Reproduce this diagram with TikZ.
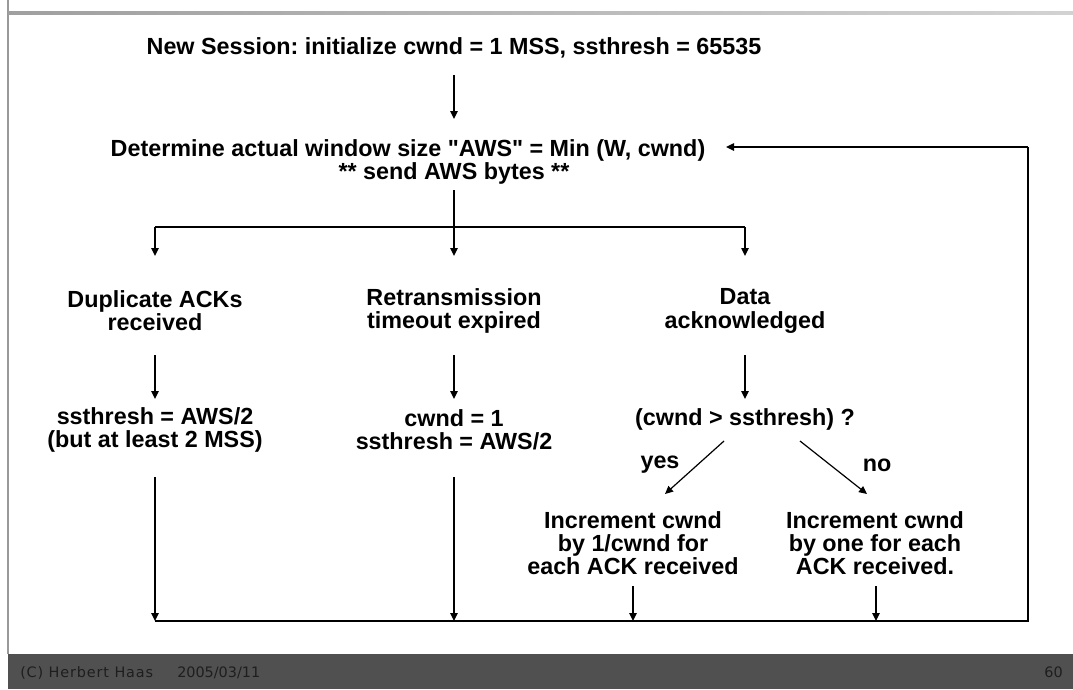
\documentclass[tikz,border=0pt]{standalone}
\usepackage{fontspec}
\setmainfont{Liberation Sans}[Ligatures=TeXOff]
\newfontfamily\footfont{DejaVu Sans}
\usetikzlibrary{arrows.meta}
\definecolor{footbg}{HTML}{505050}
\definecolor{foottx}{HTML}{1E1E1E}
\frenchspacing
\begin{document}
\begin{tikzpicture}[x=0.75pt,y=-0.75pt,
  lbl/.style={font=\bfseries\fontsize{17.5}{17.4}\selectfont,align=center,inner sep=0pt},
  foot/.style={text=foottx,font=\footfont\fontsize{10.8}{12}\selectfont,inner sep=0pt},
  arr/.style={line width=1.1pt,-{Triangle[width=5.5pt,length=6pt]}},
  ln/.style={line width=1.1pt}]
\useasboundingbox (0,0) rectangle (1073,689);
% slide frame
\fill[footbg] (8,654) rectangle (1073,689);
\draw[gray!80,line width=0.8pt] (8,0) -- (8,654);
\shade[left color=gray!75,right color=gray!35] (8,11.5) rectangle (1073,14);
\node[foot,anchor=base west] (footer) at (20,677)
  {\makebox[117.75pt][l]{\addfontfeature{LetterSpace=6}(C) Herbert Haas}2005/03/11};
\node[foot,anchor=base east] (page) at (1063,677) {60};

% text blocks
\node[lbl] (new) at (454,48) {New Session: initialize cwnd = 1 MSS, ssthresh = 65535};
\node[lbl] (det1) at (408,150) {Determine actual window size "AWS" = Min (W, cwnd)};
\node[lbl] (det2) at (454,173) {** send AWS bytes **};
\node[lbl] (dup) at (155,311) {Duplicate ACKs\\received};
\node[lbl] (ret) at (454,311) {Retransmission\\timeout expired};
\node[lbl] (dat) at (745,311) {Data\\acknowledged};
\node[lbl] (ss1) at (155,430) {ssthresh = AWS/2\\(but at least 2 MSS)};
\node[lbl] (cw1) at (454,430) {cwnd = 1\\ssthresh = AWS/2};
\node[lbl] (cmp) at (745,419) {(cwnd > ssthresh) ?};
\node[lbl] (yes) at (660,465) {yes};
\node[lbl] (no) at (877,465) {no};
\node[lbl] (inc1) at (633,543) {Increment cwnd\\by 1/cwnd for\\each ACK received};
\node[lbl] (inc2) at (875,543) {Increment cwnd\\by one for each\\ACK received.};

% junction points
\coordinate (a0) at (454,75);
\coordinate (a1) at (454,119);
\coordinate (s0) at (454,190);
\coordinate (split) at (454,227);
\coordinate (sl) at (155,227);
\coordinate (sr) at (745,227);
\coordinate (dupT) at (155,256);
\coordinate (retT) at (454,256);
\coordinate (datT) at (745,256);
\coordinate (dupB) at (155,355);
\coordinate (retB) at (454,355);
\coordinate (datB) at (745,355);
\coordinate (ss1T) at (155,399);
\coordinate (cw1T) at (454,399);
\coordinate (cmpT) at (745,399);
\coordinate (yA) at (724,441);
\coordinate (yB) at (665,494);
\coordinate (nA) at (800,441);
\coordinate (nB) at (867,494);
\coordinate (ss1B) at (155,477);
\coordinate (cw1B) at (454,477);
\coordinate (inc1B) at (633,586);
\coordinate (inc2B) at (876,586);
\coordinate (bl) at (155,621);
\coordinate (b2) at (454,621);
\coordinate (b3) at (633,621);
\coordinate (b4) at (876,621);
\coordinate (br) at (1028,621);
\coordinate (tr) at (1028,147);
\coordinate (fb) at (726,147);

% connectors
\draw[arr] (a0) -- (a1);
\draw[ln] (s0) -- (split);
\draw[ln] (sl) -- (sr);
\draw[arr] (sl) -- (dupT);
\draw[arr] (split) -- (retT);
\draw[arr] (sr) -- (datT);
\draw[arr] (dupB) -- (ss1T);
\draw[arr] (retB) -- (cw1T);
\draw[arr] (datB) -- (cmpT);
\draw[arr,line width=0.9pt] (yA) -- (yB);
\draw[arr,line width=0.9pt] (nA) -- (nB);
\draw[arr] (ss1B) -- (bl);
\draw[arr] (cw1B) -- (b2);
\draw[arr] (inc1B) -- (b3);
\draw[arr] (inc2B) -- (b4);
\draw[ln] (bl) -- (br) -- (tr);
\draw[arr] (tr) -- (fb);
\end{tikzpicture}
\end{document}
